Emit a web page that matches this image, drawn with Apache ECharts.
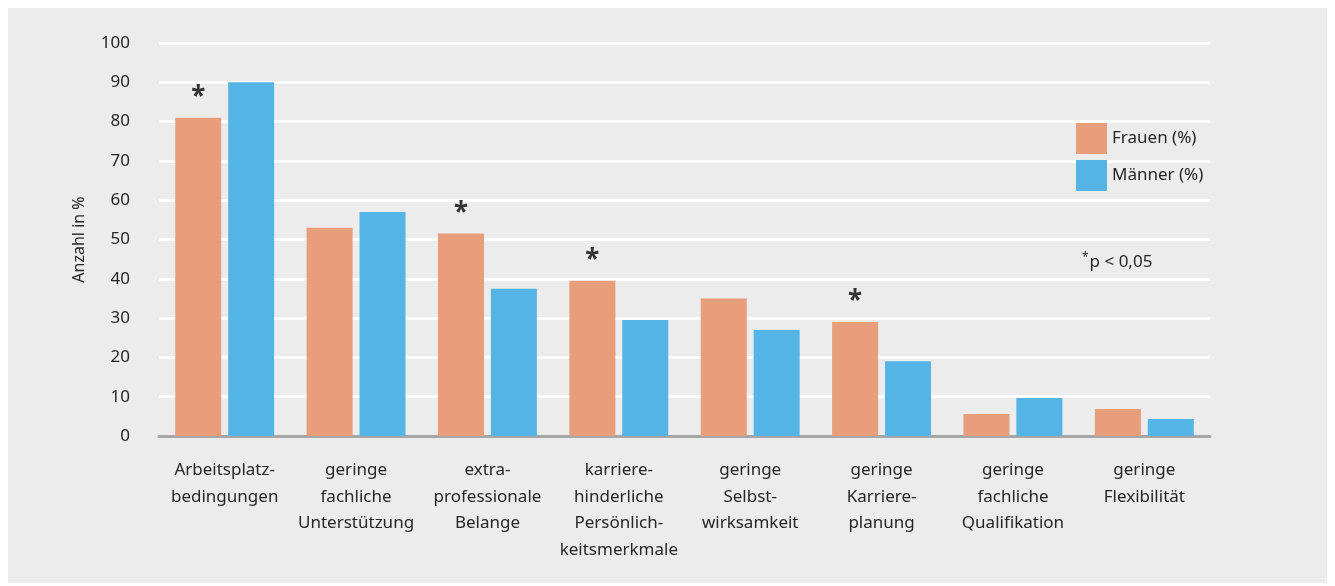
<!DOCTYPE html>
<html>
<head>
<meta charset="utf-8">
<script src="https://cdn.jsdelivr.net/npm/echarts@6/dist/echarts.min.js"></script>
<style>
  html, body { margin: 0; padding: 0; background: #ffffff; }
  .card {
    position: absolute;
    left: 8px;
    top: 8px;
    width: 1319px;
    height: 575px;
    background: #ebeceb;
  }
  #chart {
    position: absolute;
    left: 0;
    top: 0;
    width: 1335px;
    height: 586px;
  }
</style>
</head>
<body>
<div class="card"></div>
<div id="chart"></div>
<script>
const categories = [
  'Arbeitsplatz-\nbedingungen',
  'geringe\nfachliche\nUnterstützung',
  'extra-\nprofessionale\nBelange',
  'karriere-\nhinderliche\nPersönlich-\nkeitsmerkmale',
  'geringe\nSelbst-\nwirksamkeit',
  'geringe\nKarriere-\nplanung',
  'geringe\nfachliche\nQualifikation',
  'geringe\nFlexibilität'
]
const frauen = [81, 53, 51.5, 39.5, 35, 29, 5.6, 6.9]
const maenner = [90, 57, 37.5, 29.5, 27, 19, 9.7, 4.3]
const significant = ['*', '', '*', '*', '', '*', '', '']
const yTicks = [0, 10, 20, 30, 40, 50, 60, 70, 80, 90, 100]

const FONT = '"Noto Sans", sans-serif'
const TEXT_COLOR = '#262626'

let chart = echarts.init(document.getElementById('chart'))

chart.setOption({
  backgroundColor: 'transparent',
  textStyle: {
    fontFamily: FONT
  },
  animation: false,
  grid: {
    left: 159,
    right: 125,
    top: 43,
    bottom: 150
  },
  legend: {
    orient: 'vertical',
    left: 1071,
    top: 118,
    itemWidth: 31,
    itemHeight: 31,
    itemGap: 6,
    icon: 'rect',
    textStyle: {
      fontSize: 17,
      color: TEXT_COLOR,
      fontFamily: FONT
    },
    data: ['Frauen (%)', 'Männer (%)']
  },
  graphic: [
    {
      type: 'text',
      left: 1082,
      top: 252,
      style: {
        text: '{s|*}{t|p < 0,05}',
        rich: {
          s: { fontSize: 12, fontFamily: FONT, fill: TEXT_COLOR, verticalAlign: 'top', padding: [0, 1, 8, 0] },
          t: { fontSize: 17, fontFamily: FONT, fill: TEXT_COLOR }
        }
      }
    }
  ],
  xAxis: {
    type: 'category',
    data: categories,
    axisTick: { show: false },
    axisLine: {
      lineStyle: {
        color: '#a6a6a6',
        width: 3
      }
    },
    axisLabel: {
      color: TEXT_COLOR,
      fontSize: 17,
      lineHeight: 26.5,
      margin: 21,
      interval: 0,
      fontFamily: FONT
    }
  },
  yAxis: {
    type: 'value',
    min: 0,
    max: 100,
    interval: 10,
    name: 'Anzahl in %',
    nameLocation: 'middle',
    nameGap: 72,
    nameTextStyle: {
      color: TEXT_COLOR,
      fontSize: 16,
      fontFamily: FONT
    },
    axisLine: { show: false },
    axisTick: { show: false },
    axisLabel: {
      color: TEXT_COLOR,
      fontSize: 17,
      margin: 29,
      fontFamily: FONT,
      formatter: value => (yTicks.indexOf(value) >= 0 ? String(value) : '')
    },
    splitLine: {
      lineStyle: {
        color: '#ffffff',
        width: 3
      }
    }
  },
  series: [
    {
      name: 'Frauen (%)',
      type: 'bar',
      data: frauen,
      barWidth: 46,
      barGap: '15%',
      itemStyle: { color: '#e89d7b' },
      label: {
        show: true,
        position: 'top',
        distance: 7,
        fontSize: 26,
        fontWeight: 'bold',
        color: '#333333',
        fontFamily: FONT,
        formatter: params => significant[params.dataIndex]
      }
    },
    {
      name: 'Männer (%)',
      type: 'bar',
      data: maenner,
      barWidth: 46,
      itemStyle: { color: '#54b4e6' }
    }
  ]
})
</script>
</body>
</html>
